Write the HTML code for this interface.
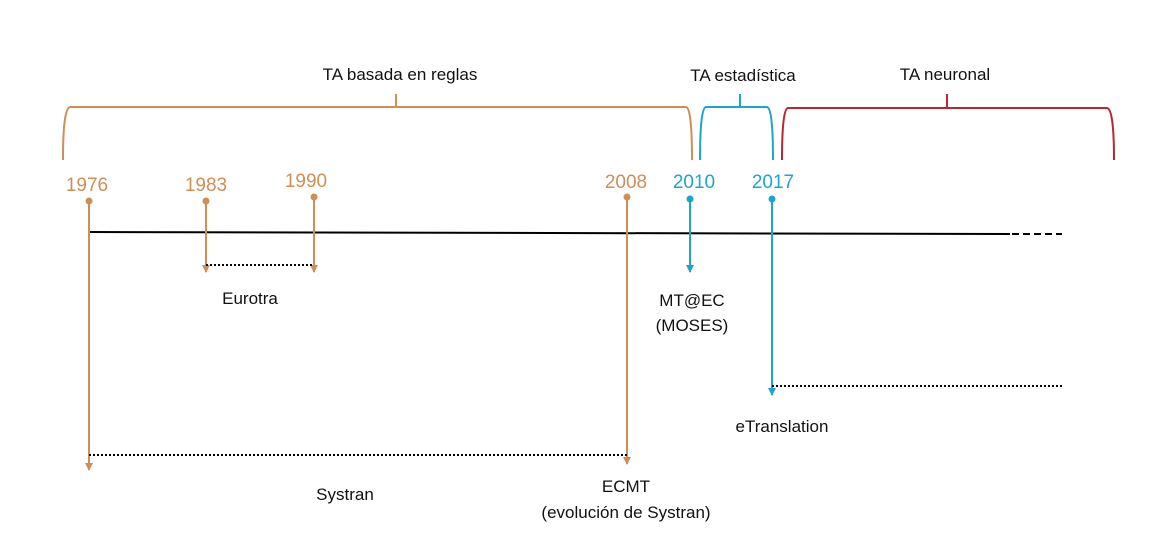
<!DOCTYPE html>
<html><head><meta charset="utf-8"><style>
html,body{margin:0;padding:0;background:#fff;width:1166px;height:559px;overflow:hidden}
text{font-family:"Liberation Sans",sans-serif}
</style></head><body>
<svg width="1166" height="559" viewBox="0 0 1166 559" xmlns="http://www.w3.org/2000/svg">
<defs>
<marker id="ao" markerWidth="8" markerHeight="8" refX="4" refY="7" orient="0" markerUnits="userSpaceOnUse"><path d="M0,0 L8,0 L4,8 z" fill="#D08E57"/></marker>
<marker id="ab" markerWidth="8" markerHeight="8" refX="4" refY="7" orient="0" markerUnits="userSpaceOnUse"><path d="M0,0 L8,0 L4,8 z" fill="#1FA5CB"/></marker>
</defs>
<g fill="none" stroke-width="2">
<path d="M63,160 Q63,108 70,107 L686,107 Q692,108 692,160 M396,94 L396,107" stroke="#D08E57"/>
<path d="M700,160 Q700,108 706,107 L767,107 Q773,108 773,160 M740,94 L740,107" stroke="#1FA5CB"/>
<path d="M782,160 Q782,109 788,108 L1107,108 Q1114,109 1114,160 M947,94 L947,108" stroke="#B22A33"/>
</g>
<g font-size="17" fill="#111" text-anchor="middle">
<text x="400" y="80">TA basada en reglas</text>
<text x="743" y="81">TA estadística</text>
<text x="945" y="80">TA neuronal</text>
</g>
<g font-size="19" text-anchor="middle">
<text x="87" y="191" fill="#D08E57">1976</text>
<text x="206" y="191" fill="#D08E57">1983</text>
<text x="306" y="187" fill="#D08E57">1990</text>
<text x="626" y="188" fill="#D08E57">2008</text>
<text x="694" y="188" fill="#1FA5CB">2010</text>
<text x="773" y="188" fill="#1FA5CB">2017</text>
</g>
<path d="M89,232 L1010,234" stroke="#000" stroke-width="2"/>
<path d="M1012,234 L1062,234" stroke="#000" stroke-width="2" stroke-dasharray="7,4"/>
<g stroke-width="2">
<line x1="89" y1="201" x2="89" y2="470" stroke="#D08E57" marker-end="url(#ao)"/>
<line x1="206" y1="201" x2="206" y2="272" stroke="#D08E57" marker-end="url(#ao)"/>
<line x1="314" y1="197" x2="314" y2="272" stroke="#D08E57" marker-end="url(#ao)"/>
<line x1="627" y1="197" x2="627" y2="464" stroke="#D08E57" marker-end="url(#ao)"/>
<line x1="690" y1="199" x2="690" y2="272" stroke="#1FA5CB" marker-end="url(#ab)"/>
<line x1="772" y1="199" x2="772" y2="395" stroke="#1FA5CB" marker-end="url(#ab)"/>
</g>
<g>
<circle cx="89" cy="201" r="3.5" fill="#D08E57"/>
<circle cx="206" cy="201" r="3.5" fill="#D08E57"/>
<circle cx="314" cy="197" r="3.5" fill="#D08E57"/>
<circle cx="627" cy="197" r="3.5" fill="#D08E57"/>
<circle cx="690" cy="199" r="3.5" fill="#1FA5CB"/>
<circle cx="772" cy="199" r="3.5" fill="#1FA5CB"/>
</g>
<g stroke="#000" stroke-width="2" stroke-dasharray="2,2">
<line x1="206" y1="265" x2="314" y2="265"/>
<line x1="89" y1="455" x2="627" y2="455"/>
<line x1="772" y1="386" x2="1062" y2="386"/>
</g>
<g font-size="17" fill="#111" text-anchor="middle">
<text x="250" y="304">Eurotra</text>
<text x="692" y="306">MT@EC</text>
<text x="692" y="331">(MOSES)</text>
<text x="782" y="432">eTranslation</text>
<text x="345" y="500">Systran</text>
<text x="626" y="492">ECMT</text>
<text x="626" y="518">(evolución de Systran)</text>
</g>
</svg>
</body></html>
